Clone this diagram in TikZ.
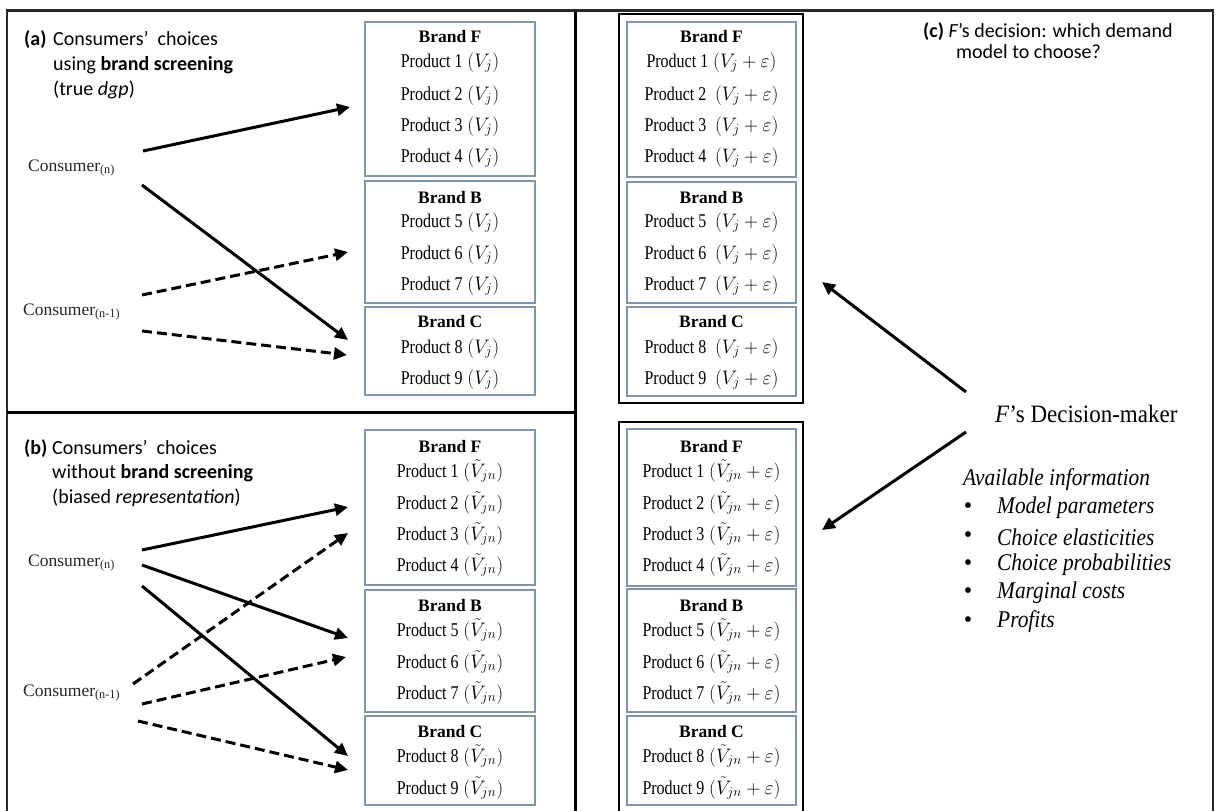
\RequirePackage{fix-cm}
\documentclass[tikz,border=0pt]{standalone}
\usepackage{fontspec}
\setmainfont{Liberation Serif}
\newfontfamily\calfont{Carlito}
\usetikzlibrary{arrows.meta}
\definecolor{boxblue}{RGB}{128,148,176}
\definecolor{framegray}{RGB}{40,40,40}
\newcommand{\prodlabel}[1]{\scalebox{0.82}[1]{Product #1}}
\tikzset{
  frameline/.style={draw=framegray, line width=2.5pt},
  divline/.style={draw=black, line width=3pt},
  bluebox/.style={draw=boxblue, line width=1.4pt, inner sep=0pt, minimum width=170pt},
  blackbox/.style={draw=black, line width=2pt, inner sep=0pt, minimum width=184pt},
  rowtxt/.style={font=\fontsize{19.5}{22}\selectfont, inner sep=0pt, text height=13pt, text depth=5pt},
  brandtxt/.style={rowtxt, font=\fontsize{17.5}{20}\selectfont\bfseries, text height=12pt, text depth=4pt},
  cons/.style={font=\fontsize{17.5}{20}\selectfont, text=black!85, inner sep=0pt, anchor=west},
  paneltitle/.style={font=\calfont\fontsize{20}{24}\selectfont, inner sep=0pt, anchor=west, text height=14pt, text depth=4pt},
  solidarrow/.style={line width=3pt, -{Triangle[length=13pt,width=12pt]}},
  dasharrow/.style={solidarrow, dash pattern=on 10pt off 5pt},
  infotxt/.style={font=\fontsize{24}{26}\selectfont\itshape, inner sep=0pt, anchor=west},
}
\begin{document}
\begin{tikzpicture}[x=1pt,y=-1pt]
\useasboundingbox (0,0) rectangle (1216,811);
% frame
\draw[frameline] (7,830) -- (7,10.5) -- (1213,10.5) -- (1213,830);
\draw[divline] (575,12) -- (575,830);
\draw[divline] (7,412) -- (575,412);

% ---------- panel (a) ----------
\node[paneltitle] (ta0) at (24,40) {\textbf{(a)}};
\node[paneltitle] (ta1) at (53,40) {Consumers’\ \ choices};
\node[paneltitle] (ta2) at (53,65) {using \textbf{brand screening}};
\node[paneltitle] (ta3) at (53,90) {(true \textit{dgp})};

\node[bluebox, minimum height=154pt] (aF) at (450,99) {};
\node[bluebox, minimum height=122pt] (aB) at (450,242) {};
\node[bluebox, minimum height=88pt] (aC) at (450,351) {};
\node[brandtxt] (aBF) at (450,38) {Brand F};
\node[brandtxt] (aBB) at (450,199) {Brand B};
\node[brandtxt] (aBC) at (450,323) {Brand C};
\foreach \n/\y in {1/63,2/96,3/127,4/158,5/223,6/255,7/286,8/349,9/380}
  \node[rowtxt] (aP\n) at (450,\y) {\prodlabel{\n}\ $\bigl(V_j\bigr)$};

\node[cons] (aCn) at (28,168) {Consumer\textsubscript{(n)}};
\node[cons] (aCm) at (23,312) {Consumer\textsubscript{(n-1)}};

\coordinate (as1) at (143,151); \coordinate (ae1) at (350,107);
\coordinate (as2) at (142,185); \coordinate (ae2) at (348,340);
\coordinate (as3) at (142,295); \coordinate (ae3) at (348,252);
\coordinate (as4) at (142,331); \coordinate (ae4) at (347,355);
\draw[solidarrow] (as1) -- (ae1);
\draw[solidarrow] (as2) -- (ae2);
\draw[dasharrow] (as3) -- (ae3);
\draw[dasharrow] (as4) -- (ae4);

% ---------- panel (b) ----------
\node[paneltitle] (tb0) at (24,449) {\textbf{(b)}};
\node[paneltitle] (tb1) at (52,449) {Consumers’\ \ choices};
\node[paneltitle] (tb2) at (52,473) {without \textbf{brand screening}};
\node[paneltitle] (tb3) at (52,498) {(biased \textit{representation})};

\node[bluebox, minimum height=155pt] (bF) at (450,507.5) {};
\node[bluebox, minimum height=122pt] (bB) at (450,651) {};
\node[bluebox, minimum height=89pt] (bC) at (450,760.5) {};
\node[brandtxt] (bBF) at (450,448) {Brand F};
\node[brandtxt] (bBB) at (450,607) {Brand B};
\node[brandtxt] (bBC) at (450,733) {Brand C};
\foreach \n/\y in {1/473,2/505,3/536,4/567,5/632,6/664,7/695,8/758,9/790}
  \node[rowtxt] (bP\n) at (450,\y) {\prodlabel{\n}\ $\bigl(\tilde{V}_{jn}\bigr)$};

\node[cons] (bCn) at (28,563) {Consumer\textsubscript{(n)}};
\node[cons] (bCm) at (23,693) {Consumer\textsubscript{(n-1)}};

\coordinate (bs1) at (142,550); \coordinate (be1) at (348,507);
\coordinate (bs2) at (142,565); \coordinate (be2) at (348,638);
\coordinate (bs3) at (142,586); \coordinate (be3) at (348,756);
\coordinate (bs4) at (133,684); \coordinate (be4) at (348,533);
\coordinate (bs5) at (142,704); \coordinate (be5) at (346,657);
\coordinate (bs6) at (138,721); \coordinate (be6) at (348,770);
\draw[solidarrow] (bs1) -- (be1);
\draw[solidarrow] (bs2) -- (be2);
\draw[solidarrow] (bs3) -- (be3);
\draw[dasharrow] (bs4) -- (be4);
\draw[dasharrow] (bs5) -- (be5);
\draw[dasharrow] (bs6) -- (be6);

% ---------- panel (c) ----------
\node[paneltitle] (tc1) at (923,32) {\textbf{(c)} \textit{F}’s decision: which demand};
\node[paneltitle] (tc2) at (956,53) {model to choose?};

\node[blackbox, minimum height=389pt] (cTop) at (711,208.5) {};
\node[blackbox, minimum height=392pt] (cBot) at (711,618) {};

\node[bluebox, minimum width=169pt, minimum height=155pt] (cF) at (711.5,99.5) {};
\node[bluebox, minimum width=169pt, minimum height=121pt] (cB) at (711.5,242.5) {};
\node[bluebox, minimum width=169pt, minimum height=89pt] (cC) at (711.5,351.5) {};
\node[brandtxt] (cBF) at (711.5,38) {Brand F};
\node[brandtxt] (cBB) at (711.5,199) {Brand B};
\node[brandtxt] (cBC) at (711.5,323) {Brand C};
\node[rowtxt] (cP1) at (711.5,63) {\prodlabel{1}\ $\bigl(V_j+\varepsilon\bigr)$};
\foreach \n/\y in {2/96,3/127,4/158,5/223,6/255,7/286,8/349,9/380}
  \node[rowtxt] (cP\n) at (711.5,\y) {\prodlabel{\n}\hspace{0.45em}$\bigl(V_j+\varepsilon\bigr)$};

\node[bluebox, minimum width=169pt, minimum height=157pt] (dF) at (711.5,507.5) {};
\node[bluebox, minimum width=169pt, minimum height=123pt] (dB) at (711.5,650.5) {};
\node[bluebox, minimum width=169pt, minimum height=89pt] (dC) at (711.5,760.5) {};
\node[brandtxt] (dBF) at (711.5,448) {Brand F};
\node[brandtxt] (dBB) at (711.5,607) {Brand B};
\node[brandtxt] (dBC) at (711.5,733) {Brand C};
\foreach \n/\y in {1/473,2/505,3/536,4/567,5/632,6/664,7/695,8/758,9/790}
  \node[rowtxt] (dP\n) at (711.5,\y) {\prodlabel{\n}\ $\bigl(\tilde{V}_{jn}+\varepsilon\bigr)$};

\node[font=\fontsize{25}{28}\selectfont, inner sep=0pt, anchor=west] (dm) at (995,414) {\scalebox{0.92}[1]{\textit{F}’s Decision-maker}};
\coordinate (cs1) at (966,392); \coordinate (ce1) at (822,282);
\coordinate (cs2) at (966,432); \coordinate (ce2) at (822,530);
\draw[solidarrow] (cs1) -- (ce1);
\draw[solidarrow] (cs2) -- (ce2);

\node[infotxt] (info) at (963,480) {\scalebox{0.89}[1]{Available information}};
\foreach \t/\y [count=\i] in {Model parameters/508,Choice elasticities/537,Choice probabilities/565,Marginal costs/593,Profits/622}{
  \node[font=\fontsize{24}{26}\selectfont, inner sep=0pt] (bul\i) at (968,\y) {•};
  \node[infotxt] (item\i) at (997,\y) {\scalebox{0.89}[1]{\t}};
}
\end{tikzpicture}
\end{document}
